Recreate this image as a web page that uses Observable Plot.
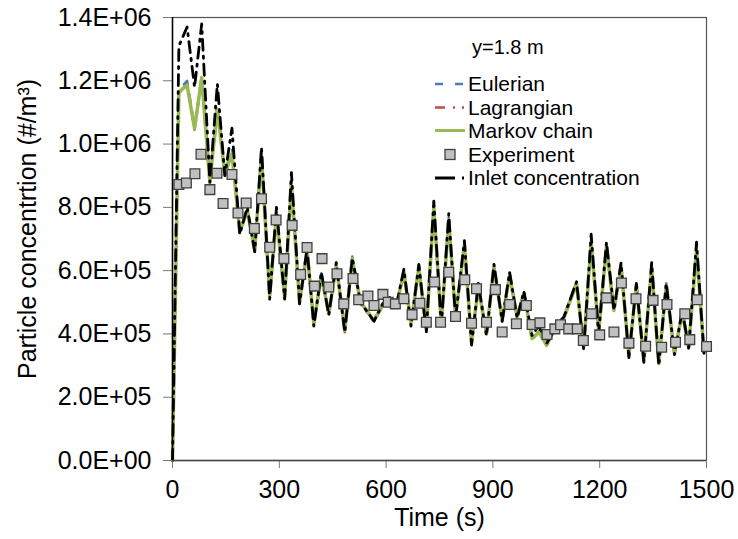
<!DOCTYPE html>
<html>
<head>
<meta charset="utf-8">
<script src="https://cdn.jsdelivr.net/npm/d3@7"></script>
<script src="https://cdn.jsdelivr.net/npm/@observablehq/plot@0.6"></script>
<style>
  html, body { margin: 0; padding: 0; background: white; }
  #chart { width: 738px; height: 539px; }
</style>
</head>
<body>
<div id="chart"></div>
<script>
// ---- data (concentration in #/m^3, time in s) ----
const simTime = [0, 18, 41, 62, 82, 105, 126, 147, 167, 189, 210, 231, 250, 273, 292, 315, 334, 357, 378, 397,
  418, 439, 460, 484, 505, 528, 566, 590, 610, 628, 650, 670, 692, 713, 734, 755, 776, 795, 820, 840,
  859, 882, 903, 926, 947, 968, 987, 1010, 1029, 1051, 1076, 1100, 1135, 1155, 1176, 1197, 1219, 1240, 1260, 1282,
  1303, 1324, 1346, 1366, 1387, 1410, 1432, 1450, 1472, 1493, 1500];

const markovE5 = [0, 11.65, 11.86, 10.49, 12.10, 8.80, 11.10, 9.06, 9.70, 7.22, 7.90, 6.64, 9.60, 5.20, 7.75, 5.16, 8.70, 5.00, 6.64, 4.32,
  5.85, 4.64, 6.17, 4.11, 6.38, 5.00, 4.43, 4.90, 5.10, 4.85, 5.95, 4.32, 6.11, 4.11, 8.00, 4.32, 7.60, 4.53, 6.80, 3.74,
  5.48, 4.00, 6.11, 4.43, 5.85, 4.53, 5.27, 3.85, 4.06, 3.64, 4.20, 4.53, 5.59, 3.58, 6.90, 4.06, 6.75, 4.74, 6.15, 3.32,
  5.53, 3.16, 6.10, 3.06, 5.53, 3.37, 4.69, 3.58, 6.65, 3.42, 3.55];

const eulerianE5 = [0, 11.70, 12.00, 10.55, 12.15, 8.85, 11.25, 9.10, 9.85, 7.25, 7.95, 6.70, 9.75, 5.20, 7.85, 5.18, 8.85, 5.02, 6.72, 4.33,
  5.92, 4.66, 6.25, 4.12, 6.45, 5.02, 4.45, 4.93, 5.13, 4.87, 6.00, 4.33, 6.18, 4.12, 8.10, 4.33, 7.70, 4.55, 6.88, 3.75,
  5.55, 4.02, 6.18, 4.45, 5.92, 4.55, 5.33, 3.95, 4.15, 3.70, 4.25, 4.58, 5.66, 3.60, 7.00, 4.08, 6.85, 4.76, 6.22, 3.34,
  5.60, 3.18, 6.18, 3.08, 5.60, 3.39, 4.75, 3.60, 6.75, 3.43, 3.56];

const lagrangianE5 = [0, 11.60, 11.90, 10.45, 12.05, 8.70, 11.05, 9.00, 9.65, 7.18, 7.88, 6.60, 9.55, 5.10, 7.72, 5.10, 8.65, 4.95, 6.60, 4.28,
  5.82, 4.60, 6.15, 4.05, 6.35, 4.95, 4.38, 4.88, 5.08, 4.82, 5.92, 4.28, 6.08, 4.06, 7.95, 4.28, 7.55, 4.50, 6.76, 3.70,
  5.45, 3.96, 6.08, 4.40, 5.82, 4.50, 5.25, 3.80, 4.10, 3.75, 4.22, 4.50, 5.56, 3.55, 6.86, 4.02, 6.72, 4.70, 6.12, 3.28,
  5.50, 3.12, 6.06, 3.02, 5.50, 3.33, 4.66, 3.55, 6.62, 3.38, 3.52];

const inletE5 = [0, 13.10, 13.70, 11.80, 13.80, 8.80, 11.90, 9.00, 10.50, 7.15, 8.00, 6.60, 9.90, 5.10, 8.00, 5.10, 9.10, 4.95, 6.70, 4.25,
  5.95, 4.60, 6.25, 4.05, 6.40, 5.00, 4.40, 4.95, 5.15, 4.85, 6.05, 4.25, 6.20, 4.05, 8.20, 4.25, 7.80, 4.50, 6.95, 3.65,
  5.60, 3.95, 6.20, 4.40, 5.95, 4.50, 5.35, 3.95, 4.25, 3.70, 4.20, 4.55, 5.65, 3.50, 7.15, 4.00, 6.90, 4.75, 6.25, 3.25,
  5.60, 3.10, 6.25, 3.00, 5.60, 3.35, 4.75, 3.55, 6.90, 3.35, 3.50];

const expTime = [18, 39, 63, 80, 105, 125, 142, 167, 184, 207, 230, 250, 273, 291, 313, 336, 360, 378, 399, 420,
  439, 462, 481, 507, 523, 549, 566, 591, 606, 626, 650, 673, 695, 713, 736, 753, 776, 795, 821, 840,
  854, 882, 907, 926, 947, 966, 994, 1010, 1032, 1052, 1074, 1090, 1113, 1137, 1154, 1177, 1200, 1219, 1240, 1261,
  1282, 1302, 1329, 1350, 1374, 1389, 1413, 1439, 1453, 1474, 1500];

const expE5 = [8.72, 8.77, 9.06, 9.68, 8.56, 9.08, 8.12, 9.04, 7.82, 8.14, 7.33, 8.27, 6.74, 7.60, 6.38, 7.43, 5.88, 6.73, 5.51, 6.38,
  5.48, 5.90, 4.95, 5.75, 5.08, 5.20, 4.90, 5.25, 5.00, 4.95, 5.11, 4.61, 4.97, 4.37, 5.64, 4.37, 5.95, 4.55, 5.71, 4.34,
  5.43, 4.37, 5.40, 4.06, 4.93, 4.32, 4.90, 4.30, 4.35, 3.98, 4.16, 4.29, 4.16, 4.16, 3.79, 4.64, 3.97, 5.14, 4.06, 5.61,
  3.71, 5.11, 3.61, 5.06, 3.58, 4.93, 3.74, 4.64, 3.82, 5.08, 3.60];

const xTicks = [0, 300, 600, 900, 1200, 1500];
const yTicks = [0, 2e5, 4e5, 6e5, 8e5, 1e6, 1.2e6, 1.4e6];
const yTickLabels = ["0.0E+00", "2.0E+05", "4.0E+05", "6.0E+05", "8.0E+05", "1.0E+06", "1.2E+06", "1.4E+06"];

const seriesNames = ["Eulerian", "Lagrangian", "Markov chain", "Experiment", "Inlet concentration"];
const legendTitle = "y=1.8 m";
const xTitle = "Time (s)";
const yTitle = "Particle concentrtion (#/m\u00B3)";

// ---- tables ----
const toRows = (vals) => simTime.map((t, i) => ({t, v: vals[i] * 1e5}));
const eulerRows = toRows(eulerianE5);
const lagRows = toRows(lagrangianE5);
const markovRows = toRows(markovE5);
const inletRows = toRows(inletE5);
const expRows = expTime.map((t, i) => ({t, v: expE5[i] * 1e5}));

const styles = {
  eulerian: {stroke: "#4a7ebb", strokeWidth: 2.5, strokeDasharray: "8,10"},
  lagrangian: {stroke: "#be4b48", strokeWidth: 2.5, strokeDasharray: "10,8,2,7,2,8"},
  markov: {stroke: "#98b954", strokeWidth: 3.5},
  inlet: {stroke: "#000000", strokeWidth: 2.8, strokeDasharray: "11,6,2,6"}
};

const FONT = "'Liberation Sans', Arial, Helvetica, sans-serif";

const chart = Plot.plot({
  width: 738,
  height: 539,
  marginLeft: 172,
  marginRight: 32,
  marginTop: 17,
  marginBottom: 79,
  style: {fontFamily: FONT, fontSize: "25px", background: "white", color: "black", overflow: "visible"},
  x: {domain: [0, 1500]},
  y: {domain: [0, 1.4e6]},
  marks: [
    Plot.frame({stroke: "#555", strokeWidth: 1.2}),
    Plot.line(eulerRows, {x: "t", y: "v", ...styles.eulerian}),
    Plot.line(lagRows, {x: "t", y: "v", ...styles.lagrangian}),
    Plot.line(markovRows, {x: "t", y: "v", ...styles.markov}),
    Plot.line(inletRows, {x: "t", y: "v", ...styles.inlet}),
    Plot.dot(expRows, {x: "t", y: "v", symbol: "square", r: 5.5, fill: "#c0c0c0", stroke: "#404040", strokeWidth: 1.3}),
    Plot.axisX({ticks: xTicks, tickSize: 8, tickPadding: 12, tickFormat: d => String(d), stroke: "#777", fill: "black", fontSize: 25, label: null}),
    Plot.axisY({ticks: yTicks, tickSize: 9, tickPadding: 12, tickFormat: d => yTickLabels[yTicks.indexOf(d)], stroke: "#777", fill: "black", fontSize: 25, label: null}),
    Plot.ruleX([0], {stroke: "black", strokeWidth: 1.5}),
    Plot.ruleY([0], {stroke: "#444", strokeWidth: 1.5}),
    Plot.text([xTitle], {frameAnchor: "bottom", dy: 65, fontSize: 25, fill: "black"}),
    Plot.text([yTitle], {frameAnchor: "left", textAnchor: "middle", rotate: -90, dx: -145, dy: -10, fontSize: 25, fill: "black"})
  ]
});

document.getElementById("chart").appendChild(chart);

// ---- legend (inside the plot area, top-right) ----
const svg = d3.select(chart);
const lg = svg.append("g").attr("font-family", FONT).attr("fill", "black").attr("text-anchor", "start");
lg.append("text").attr("x", 472).attr("y", 47).attr("dy", "0.35em").attr("font-size", 20).text(legendTitle);
const legendY = [84, 107.5, 130.5, 154.5, 178];
const legendStyles = [
  {stroke: "#4a7ebb", w: 2.5, dash: "8,12"},
  {stroke: "#be4b48", w: 2.5, dash: "10,8,2,7,2,20"},
  {stroke: "#98b954", w: 3, dash: null},
  null,
  {stroke: "#000", w: 3, dash: "20,7,2,20"}
];
seriesNames.forEach((name, i) => {
  const y = legendY[i];
  const s = legendStyles[i];
  if (s) {
    const ln = lg.append("line").attr("x1", 435).attr("x2", 465).attr("y1", y).attr("y2", y)
      .attr("stroke", s.stroke).attr("stroke-width", s.w);
    if (s.dash) ln.attr("stroke-dasharray", s.dash);
  } else {
    lg.append("rect").attr("x", 445).attr("y", y - 5).attr("width", 10).attr("height", 10)
      .attr("fill", "#c0c0c0").attr("stroke", "#404040").attr("stroke-width", 1.3);
  }
  lg.append("text").attr("x", 468).attr("y", y).attr("dy", "0.35em").attr("font-size", 21).text(name);
});
</script>
</body>
</html>
